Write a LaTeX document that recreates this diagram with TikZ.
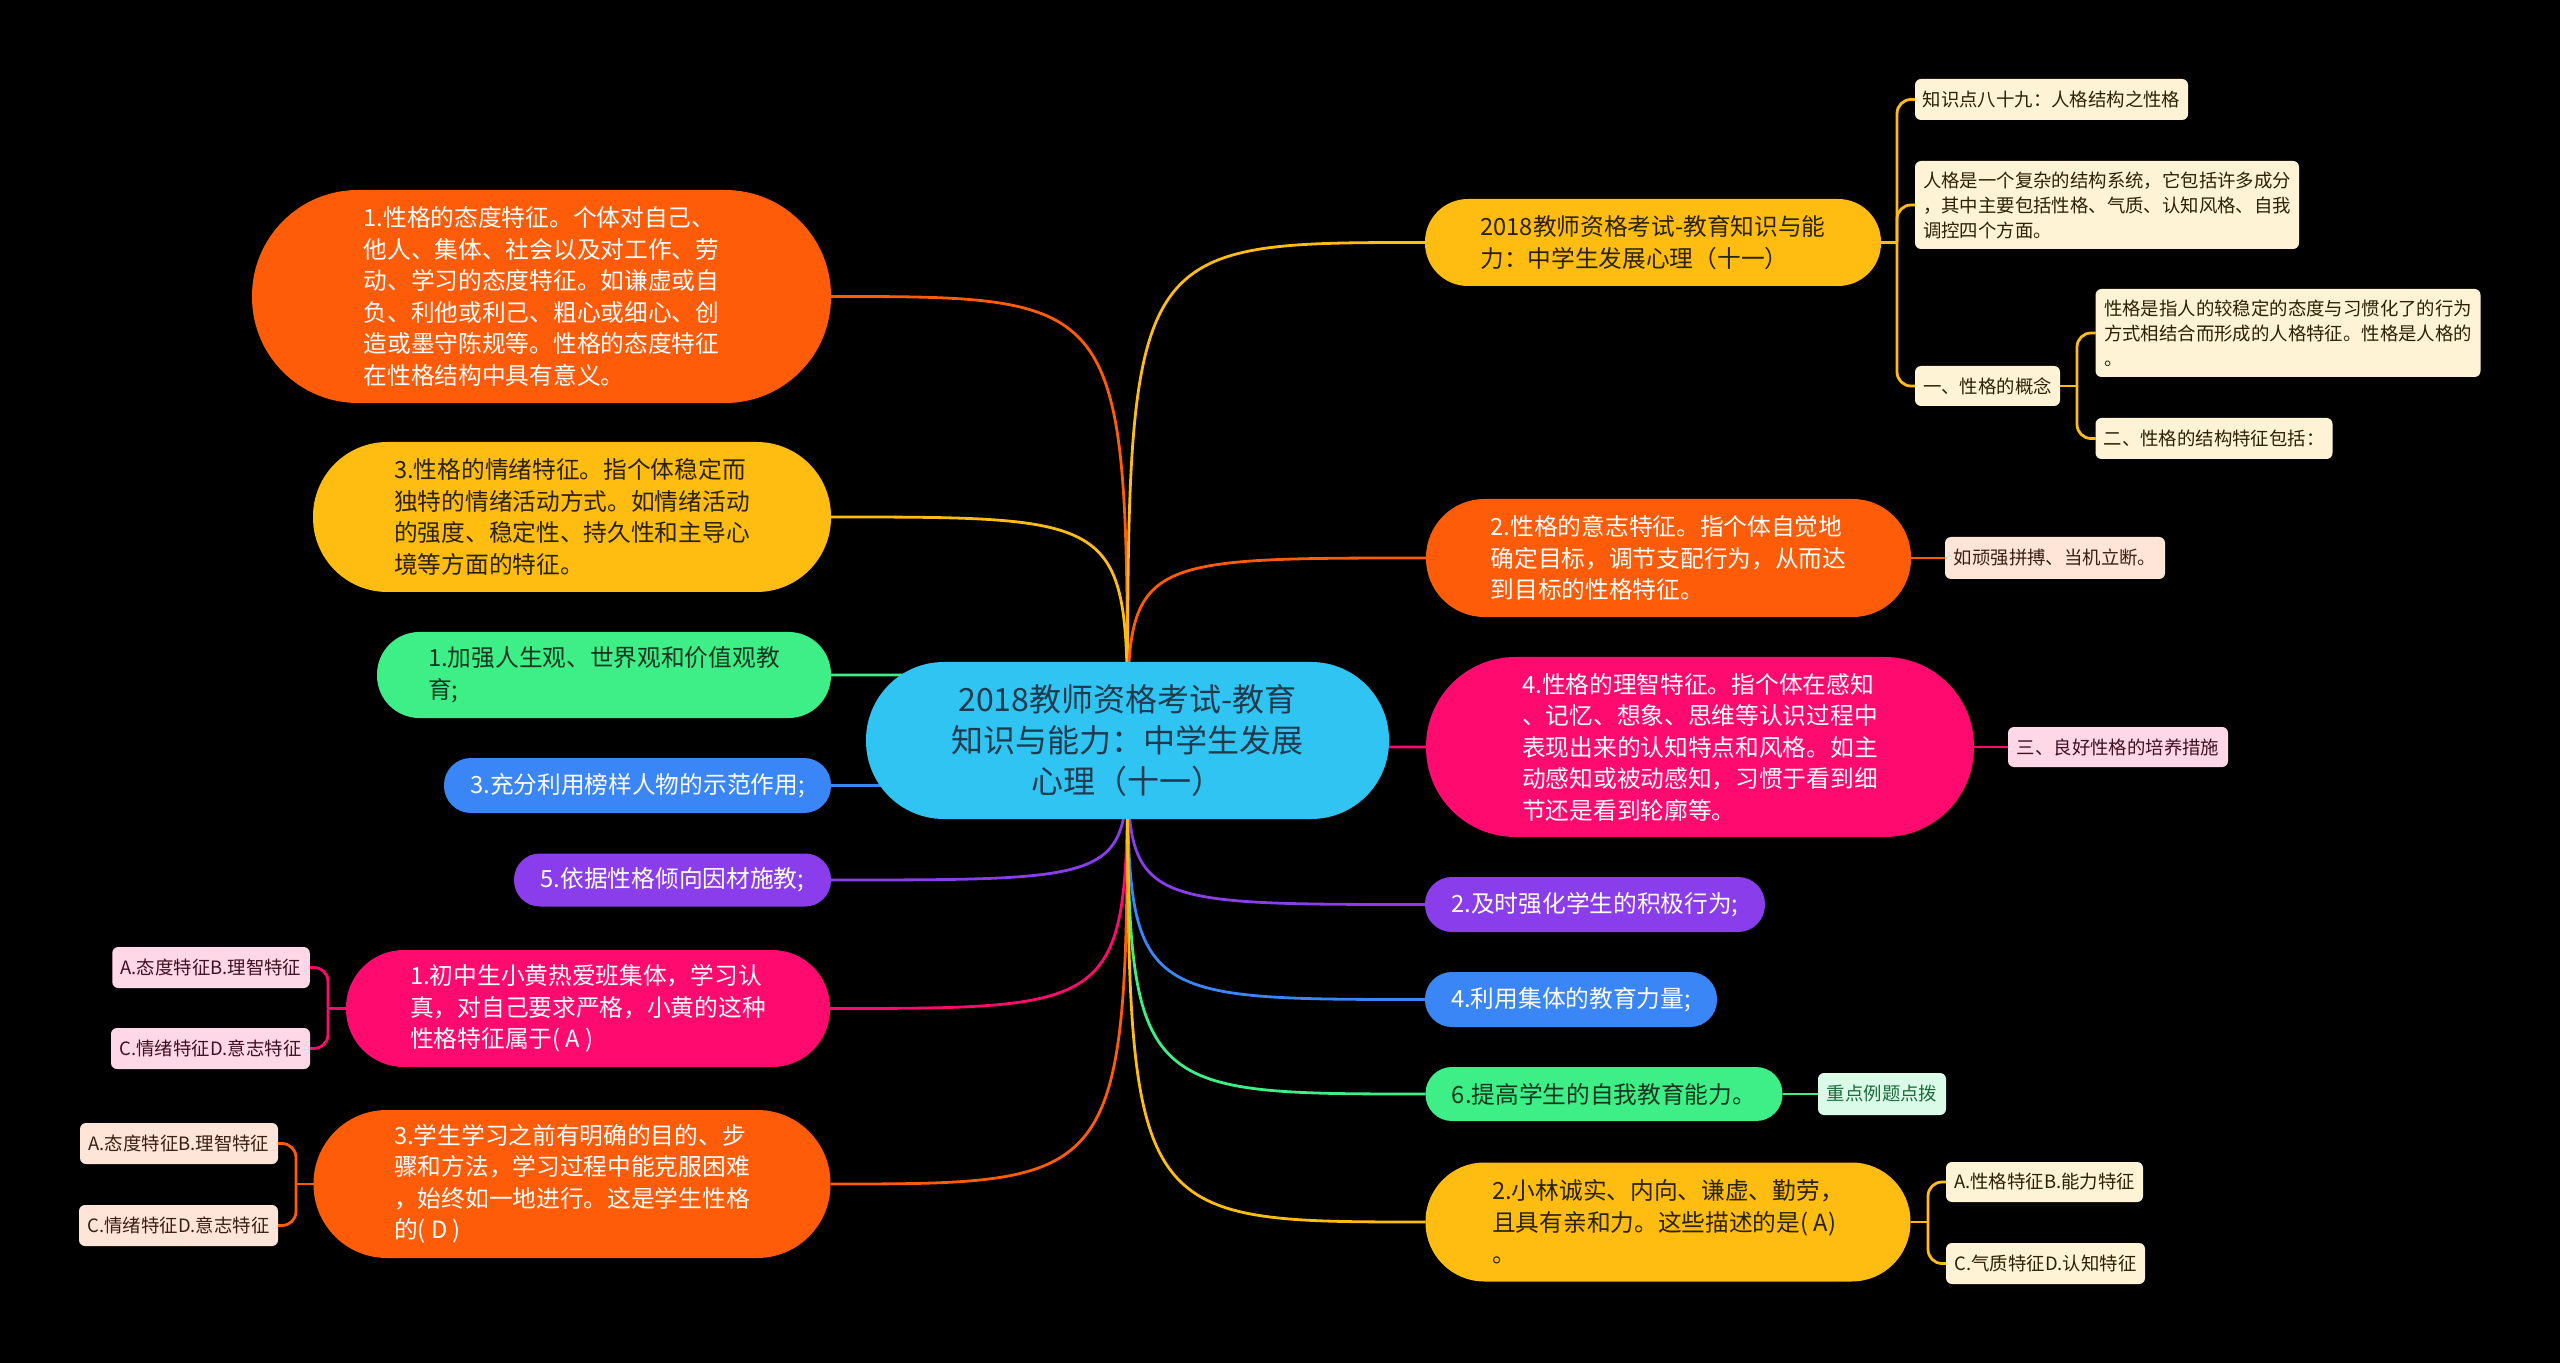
\documentclass[tikz,border=0pt]{standalone}
\usepackage{fontspec}
\setmainfont{Noto Sans CJK SC}
\usetikzlibrary{backgrounds}
\definecolor{cblue}{HTML}{30C4F3}
\definecolor{ctext}{HTML}{1E3B4E}
\definecolor{corange}{HTML}{FF5C0A}
\definecolor{cyellow}{HTML}{FFBD12}
\definecolor{cmag}{HTML}{FF0A6E}
\definecolor{cgreen}{HTML}{3DEF86}
\definecolor{cblu}{HTML}{3B86F6}
\definecolor{cpurp}{HTML}{8A3DEA}
\definecolor{dtext}{HTML}{2A2200}
\definecolor{gtext}{HTML}{12351F}
\definecolor{lcream}{HTML}{FFF3D5}
\definecolor{lpeach}{HTML}{FFE5D8}
\definecolor{lpink}{HTML}{FFD8E7}
\definecolor{lmint}{HTML}{D9FBE7}
\definecolor{mtext}{HTML}{1D6B3D}
\definecolor{ptext}{HTML}{40101F}
\definecolor{btext}{HTML}{3A2010}
\begin{document}
\begin{tikzpicture}[x=0.5pt,y=-0.5pt,
  every node/.style={inner sep=0pt, outer sep=0pt},
  pill/.style 2 args={minimum width=#1*0.5pt, minimum height=#2*0.5pt,
    rounded corners=#2*0.25pt-0.3pt, align=left,
    font=\fontsize{11.85pt}{15.75pt}\selectfont},
  tagbox/.style 2 args={minimum width=#1*0.5pt, minimum height=#2*0.5pt,
    rounded corners=3pt, align=left,
    font=\fontsize{9.2pt}{12.5pt}\selectfont},
  conn/.style={line width=1.4pt},
  elbow/.style={line width=1.4pt, rounded corners=7pt}
]
\useasboundingbox (0,0) rectangle (2560,1363);

% root
\node[pill={523}{157}, fill=cblue, text=ctext, align=center,
  font=\fontsize{16pt}{20.5pt}\selectfont] (root) at (1127.5,740.5)
  {2018教师资格考试-教育\\知识与能力：中学生发展\\心理（十一）};

% right side
\node[pill={456}{87}, fill=cyellow, text=dtext] (R1) at (1653,242.5)
  {2018教师资格考试-教育知识与能\\力：中学生发展心理（十一）};
\node[tagbox={273}{41}, fill=lcream, text=dtext] (s1) at (2051.5,99.5)
  {知识点八十九：人格结构之性格};
\node[tagbox={384}{88}, fill=lcream, text=dtext] (s2) at (2107,205)
  {人格是一个复杂的结构系统，它包括许多成分\\，其中主要包括性格、气质、认知风格、自我\\调控四个方面。};
\node[tagbox={145}{40}, fill=lcream, text=dtext] (s3) at (1987.5,386)
  {一、性格的概念};
\node[tagbox={385}{88}, fill=lcream, text=dtext] (s3a) at (2288,333)
  {性格是指人的较稳定的态度与习惯化了的行为\\方式相结合而形成的人格特征。性格是人格的\\。};
\node[tagbox={237}{41}, fill=lcream, text=dtext] (s3b) at (2214,438.5)
  {二、性格的结构特征包括：};

\node[pill={485}{118}, fill=corange, text=white] (R2) at (1668.5,558)
  {2.性格的意志特征。指个体自觉地\\确定目标，调节支配行为，从而达\\到目标的性格特征。};
\node[tagbox={220}{42}, fill=lpeach, text=btext] (R2c) at (2055,558)
  {如顽强拼搏、当机立断。};

\node[pill={548}{180}, fill=cmag, text=white] (R3) at (1700,747)
  {4.性格的理智特征。指个体在感知\\、记忆、想象、思维等认识过程中\\表现出来的认知特点和风格。如主\\动感知或被动感知，习惯于看到细\\节还是看到轮廓等。};
\node[tagbox={220}{40}, fill=lpink, text=ptext] (R3c) at (2118,747)
  {三、良好性格的培养措施};

\node[pill={340}{55}, fill=cpurp, text=white] (R4) at (1595,904.5)
  {2.及时强化学生的积极行为;};
\node[pill={292}{55}, fill=cblu, text=white] (R5) at (1571,999.5)
  {4.利用集体的教育力量;};
\node[pill={357}{54}, fill=cgreen, text=gtext] (R6) at (1604,1094)
  {6.提高学生的自我教育能力。};
\node[tagbox={128}{42}, fill=lmint, text=mtext] (R6c) at (1882,1094)
  {重点例题点拨};

\node[pill={485}{119}, fill=cyellow, text=dtext] (R7) at (1668,1222)
  {2.小林诚实、内向、谦虚、勤劳，\\且具有亲和力。这些描述的是( A)\\。};
\node[tagbox={197}{40}, fill=lcream, text=dtext] (R7a) at (2044.5,1182)
  {A.性格特征B.能力特征};
\node[tagbox={199}{41}, fill=lcream, text=dtext] (R7b) at (2045.5,1263.5)
  {C.气质特征D.认知特征};

% left side
\node[pill={579}{213}, fill=corange, text=white] (L1) at (541.5,296.5)
  {1.性格的态度特征。个体对自己、\\他人、集体、社会以及对工作、劳\\动、学习的态度特征。如谦虚或自\\负、利他或利己、粗心或细心、创\\造或墨守陈规等。性格的态度特征\\在性格结构中具有意义。};
\node[pill={518}{150}, fill=cyellow, text=dtext] (L2) at (572,517)
  {3.性格的情绪特征。指个体稳定而\\独特的情绪活动方式。如情绪活动\\的强度、稳定性、持久性和主导心\\境等方面的特征。};
\node[pill={454}{86}, fill=cgreen, text=gtext] (L3) at (604,675)
  {1.加强人生观、世界观和价值观教\\育;};
\node[pill={387}{55}, fill=cblu, text=white] (L4) at (637.5,785.5)
  {3.充分利用榜样人物的示范作用;};
\node[pill={317}{53}, fill=cpurp, text=white] (L5) at (672.5,880)
  {5.依据性格倾向因材施教;};
\node[pill={484}{117}, fill=cmag, text=white] (L6) at (588,1008.5)
  {1.初中生小黄热爱班集体，学习认\\真，对自己要求严格，小黄的这种\\性格特征属于( A )};
\node[tagbox={197.5}{41}, fill=lpink, text=ptext] (L6a) at (211,967.5)
  {A.态度特征B.理智特征};
\node[tagbox={199}{41}, fill=lpink, text=ptext] (L6b) at (210.5,1048.5)
  {C.情绪特征D.意志特征};
\node[pill={517}{148}, fill=corange, text=white] (L7) at (572,1184)
  {3.学生学习之前有明确的目的、步\\骤和方法，学习过程中能克服困难\\，始终如一地进行。这是学生性格\\的( D )};
\node[tagbox={198}{41}, fill=lpeach, text=btext] (L7a) at (179,1143.5)
  {A.态度特征B.理智特征};
\node[tagbox={199}{41}, fill=lpeach, text=btext] (L7b) at (178.5,1225.5)
  {C.情绪特征D.意志特征};

% junction points
\coordinate (jR1) at (1897,242.5);
\coordinate (jS3) at (2077,386);
\coordinate (jR7) at (1928,1222);
\coordinate (jL6) at (328,1008.5);
\coordinate (jL7) at (296,1184);

\begin{scope}[on background layer]
  \fill[black] (0,0) rectangle (2560,1363);
  % main connectors
  \foreach \n/\c/\s in {L1/corange/east, L2/cyellow/east, L3/cgreen/east,
      L4/cblu/east, L5/cpurp/east, L6/cmag/east, L7/corange/east,
      R1/cyellow/west, R2/corange/west, R3/cmag/west, R4/cpurp/west,
      R5/cblu/west, R6/cgreen/west, R7/cyellow/west}
    \draw[conn, \c] (root.center) .. controls (root.center |- \n.\s) .. (\n.\s);
  % second level
  \draw[conn, cyellow] (R1.east) -- (jR1);
  \draw[elbow, cyellow] (jR1) |- (s1.west);
  \draw[elbow, cyellow] (jR1) |- (s2.west);
  \draw[elbow, cyellow] (jR1) |- (s3.west);
  \draw[conn, cyellow] (s3.east) -- (jS3);
  \draw[elbow, cyellow] (jS3) |- (s3a.west);
  \draw[elbow, cyellow] (jS3) |- (s3b.west);
  \draw[conn, corange] (R2.east) -- (R2c.west);
  \draw[conn, cmag] (R3.east) -- (R3c.west);
  \draw[conn, cgreen] (R6.east) -- (R6c.west);
  \draw[conn, cyellow] (R7.east) -- (jR7);
  \draw[elbow, cyellow] (jR7) |- (R7a.west);
  \draw[elbow, cyellow] (jR7) |- (R7b.west);
  \draw[conn, cmag] (L6.west) -- (jL6);
  \draw[elbow, cmag] (jL6) |- (L6a.east);
  \draw[elbow, cmag] (jL6) |- (L6b.east);
  \draw[conn, corange] (L7.west) -- (jL7);
  \draw[elbow, corange] (jL7) |- (L7a.east);
  \draw[elbow, corange] (jL7) |- (L7b.east);
\end{scope}
\end{tikzpicture}
\end{document}
